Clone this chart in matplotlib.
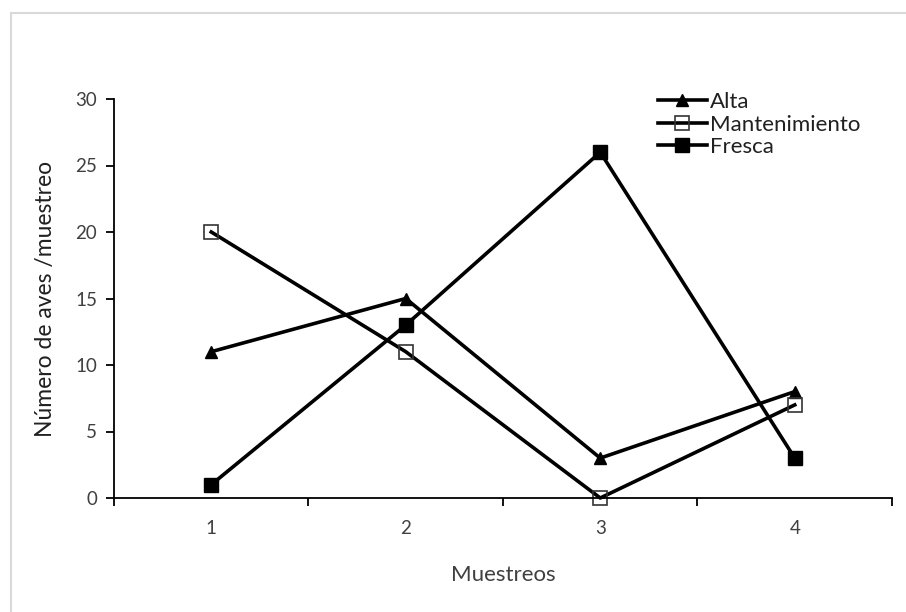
import matplotlib
matplotlib.use("Agg")
import matplotlib.pyplot as plt
from matplotlib.patches import Rectangle

plt.rcParams['font.family'] = ['Lato', 'DejaVu Sans']

# Data
muestreos = [1, 2, 3, 4]
alta = [11, 15, 3, 8]
mantenimiento = [20, 11, 0, 7]
fresca = [1, 13, 26, 3]

fig = plt.figure(figsize=(9.06, 6.12), dpi=100)
ax = fig.add_axes([114 / 906, 1 - 498 / 612, 778 / 906, 399 / 612])

# light gray chart-area border (open to the right and bottom)
fig.patches.append(Rectangle((11 / 906, -0.1), 1.2, 1 - 13 / 612 + 0.1,
                             transform=fig.transFigure, fill=False,
                             edgecolor='#d9d9d9', linewidth=1.5))

lw = 2.6
ax.plot(muestreos, alta, color='black', lw=lw, marker='^', markersize=9,
        label='Alta', clip_on=False)
ax.plot(muestreos, mantenimiento, color='black', lw=lw, marker='s', markersize=10.5,
        markerfacecolor='none', markeredgecolor='#333333', markeredgewidth=1.2,
        label='Mantenimiento', clip_on=False)
ax.plot(muestreos, fresca, color='black', lw=lw, marker='s', markersize=10,
        label='Fresca', clip_on=False)

ax.set_xlim(0.5, 4.5)
ax.set_ylim(0, 30)
ax.set_yticks(range(0, 31, 5))
ax.set_xticks(muestreos)
ax.set_xticks([0.5, 1.5, 2.5, 3.5, 4.5], minor=True)

for s in ['top', 'right']:
    ax.spines[s].set_visible(False)
ax.spines['left'].set_linewidth(1.3)
ax.spines['bottom'].set_linewidth(1.3)

ax.tick_params(axis='x', which='major', length=0, pad=16, labelsize=13.5, labelcolor='#404040')
ax.tick_params(axis='x', which='minor', length=6, width=1.3, direction='out')
ax.tick_params(axis='y', length=6, width=1.3, direction='out', pad=6,
               labelsize=13.5, labelcolor='#404040')

ax.set_xlabel('Muestreos', fontsize=16, color='#404040', labelpad=20)
ax.set_ylabel('Número de aves /muestreo', fontsize=16.5, color='#202020', labelpad=14)

leg = ax.legend(loc='upper left', bbox_to_anchor=(0.6875, 1.04), frameon=False,
                fontsize=16, handlelength=2.2, handletextpad=0.15, labelspacing=0.12,
                borderaxespad=0)
for t in leg.get_texts():
    t.set_color('#202020')

fig.savefig('out.png', dpi=100)
